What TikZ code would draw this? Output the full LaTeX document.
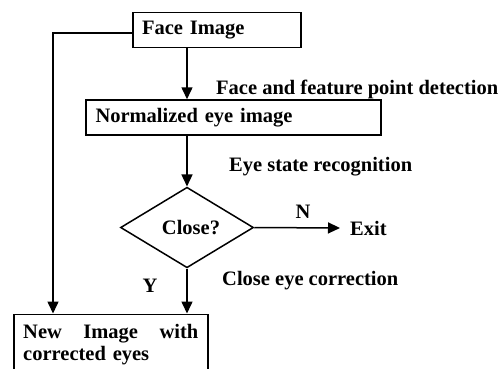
\documentclass[tikz,border=0pt]{standalone}
\usepackage{fontspec}
\setmainfont{Liberation Serif}
\usetikzlibrary{arrows.meta,shapes.geometric}
\begin{document}
\begin{tikzpicture}[x=1pt,y=-1pt,
  every node/.style={font=\fontsize{20.5}{22}\selectfont\bfseries},
  box/.style={draw,line width=1.5pt,rectangle,minimum height=35pt,inner xsep=9pt,inner ysep=0pt,align=left},
  lbl/.style={anchor=base west,inner sep=0pt},
  arr/.style={line width=1.5pt,-{Triangle[length=12pt,width=11pt]}},
  ln/.style={line width=1.5pt}]
\useasboundingbox (0,0) rectangle (503,368);
\node[box,minimum width=168pt,text width=150pt] (face) at (217,30.2) {Face Image};
\node[box,minimum width=295pt,text width=276pt] (norm) at (233.5,117.5) {Normalized eye image};
\node[draw,line width=1.5pt,diamond,minimum width=133pt,minimum height=79pt,inner sep=0pt] (dia) at (187,227.5) {\hspace*{8pt}Close?};
\node[anchor=base west,inner xsep=10pt,inner ysep=0pt] (exit) at (340,235) {Exit};
\node[box,anchor=north west,minimum width=194pt,minimum height=60.5pt,text width=175pt,inner xsep=9.5pt] (new) at (13,313.5) {New\hfill Image\hfill with\\corrected eyes};
\coordinate (lft) at (53,0);
\node[lbl] (t1) at (216,94.3) {Face and feature point detection};
\node[lbl] (t2) at (229,171) {Eye state recognition};
\node[lbl] (t3) at (222,285) {Close eye correction};
\node[anchor=base,inner sep=0pt] (n) at (303,218) {N};
\node[anchor=base,inner sep=0pt] (y) at (150,292) {Y};
\draw[arr] (face.south -| dia.north) -- (norm.north -| dia.north);
\draw[arr] (norm.south -| dia.north) -- (dia.north);
\draw[arr] (dia.east) -- (exit.west);
\draw[arr] (dia.south) -- (dia.south |- new.north);
\draw[arr] ([yshift=-3pt]face.west) -| (lft |- new.north);
\end{tikzpicture}
\end{document}
